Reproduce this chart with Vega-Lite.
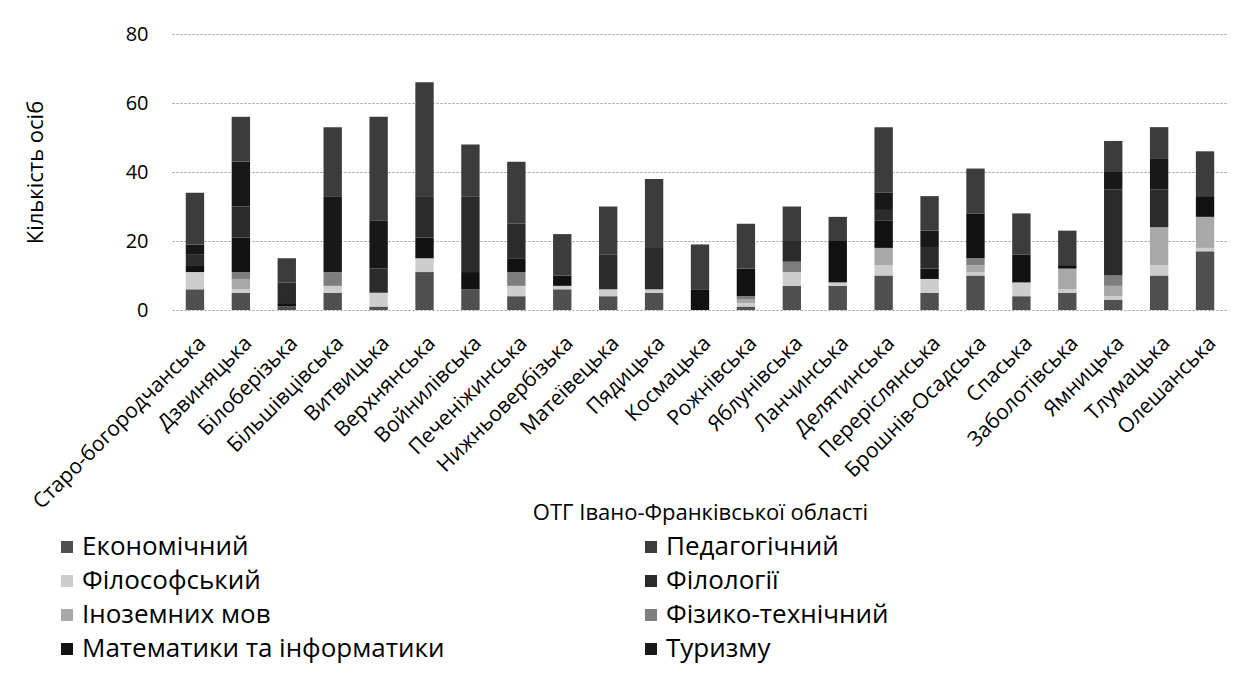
{
  "$schema": "https://vega.github.io/schema/vega-lite/v6.json",
  "width": 1056,
  "height": 276,
  "autosize": {"type": "none"},
  "padding": {"left": 172, "top": 34, "right": 15, "bottom": 363},
  "background": "white",
  "config": {
    "font": "Open Sans",
    "view": {"stroke": null}
  },
  "data": {
    "values": [
      {"o": "Старо-богородчанська", "f": "Економічний", "n": 6},
      {"o": "Старо-богородчанська", "f": "Філософський", "n": 5},
      {"o": "Старо-богородчанська", "f": "Математики та інформатики", "n": 2},
      {"o": "Старо-богородчанська", "f": "Філології", "n": 3},
      {"o": "Старо-богородчанська", "f": "Туризму", "n": 3},
      {"o": "Старо-богородчанська", "f": "Педагогічний", "n": 15},
      {"o": "Дзвиняцька", "f": "Економічний", "n": 5},
      {"o": "Дзвиняцька", "f": "Філософський", "n": 1},
      {"o": "Дзвиняцька", "f": "Іноземних мов", "n": 3},
      {"o": "Дзвиняцька", "f": "Фізико-технічний", "n": 2},
      {"o": "Дзвиняцька", "f": "Математики та інформатики", "n": 10},
      {"o": "Дзвиняцька", "f": "Філології", "n": 9},
      {"o": "Дзвиняцька", "f": "Туризму", "n": 13},
      {"o": "Дзвиняцька", "f": "Педагогічний", "n": 13},
      {"o": "Білоберізька", "f": "Економічний", "n": 1},
      {"o": "Білоберізька", "f": "Математики та інформатики", "n": 1},
      {"o": "Білоберізька", "f": "Філології", "n": 6},
      {"o": "Білоберізька", "f": "Педагогічний", "n": 7},
      {"o": "Більшівцівська", "f": "Економічний", "n": 5},
      {"o": "Більшівцівська", "f": "Філософський", "n": 2},
      {"o": "Більшівцівська", "f": "Фізико-технічний", "n": 4},
      {"o": "Більшівцівська", "f": "Туризму", "n": 22},
      {"o": "Більшівцівська", "f": "Педагогічний", "n": 20},
      {"o": "Витвицька", "f": "Економічний", "n": 1},
      {"o": "Витвицька", "f": "Філософський", "n": 4},
      {"o": "Витвицька", "f": "Філології", "n": 7},
      {"o": "Витвицька", "f": "Туризму", "n": 14},
      {"o": "Витвицька", "f": "Педагогічний", "n": 30},
      {"o": "Верхнянська", "f": "Економічний", "n": 11},
      {"o": "Верхнянська", "f": "Філософський", "n": 4},
      {"o": "Верхнянська", "f": "Математики та інформатики", "n": 6},
      {"o": "Верхнянська", "f": "Філології", "n": 12},
      {"o": "Верхнянська", "f": "Педагогічний", "n": 33},
      {"o": "Войнилівська", "f": "Економічний", "n": 6},
      {"o": "Войнилівська", "f": "Математики та інформатики", "n": 5},
      {"o": "Войнилівська", "f": "Філології", "n": 22},
      {"o": "Войнилівська", "f": "Педагогічний", "n": 15},
      {"o": "Печеніжинська", "f": "Економічний", "n": 4},
      {"o": "Печеніжинська", "f": "Філософський", "n": 3},
      {"o": "Печеніжинська", "f": "Фізико-технічний", "n": 4},
      {"o": "Печеніжинська", "f": "Математики та інформатики", "n": 4},
      {"o": "Печеніжинська", "f": "Філології", "n": 10},
      {"o": "Печеніжинська", "f": "Педагогічний", "n": 18},
      {"o": "Нижньовербізька", "f": "Економічний", "n": 6},
      {"o": "Нижньовербізька", "f": "Філософський", "n": 1},
      {"o": "Нижньовербізька", "f": "Математики та інформатики", "n": 3},
      {"o": "Нижньовербізька", "f": "Педагогічний", "n": 12},
      {"o": "Матеївецька", "f": "Економічний", "n": 4},
      {"o": "Матеївецька", "f": "Філософський", "n": 2},
      {"o": "Матеївецька", "f": "Філології", "n": 10},
      {"o": "Матеївецька", "f": "Педагогічний", "n": 14},
      {"o": "Пядицька", "f": "Економічний", "n": 5},
      {"o": "Пядицька", "f": "Філософський", "n": 1},
      {"o": "Пядицька", "f": "Філології", "n": 12},
      {"o": "Пядицька", "f": "Педагогічний", "n": 20},
      {"o": "Космацька", "f": "Математики та інформатики", "n": 6},
      {"o": "Космацька", "f": "Педагогічний", "n": 13},
      {"o": "Рожнівська", "f": "Економічний", "n": 1},
      {"o": "Рожнівська", "f": "Філософський", "n": 1},
      {"o": "Рожнівська", "f": "Іноземних мов", "n": 1},
      {"o": "Рожнівська", "f": "Фізико-технічний", "n": 1},
      {"o": "Рожнівська", "f": "Математики та інформатики", "n": 8},
      {"o": "Рожнівська", "f": "Педагогічний", "n": 13},
      {"o": "Яблунівська", "f": "Економічний", "n": 7},
      {"o": "Яблунівська", "f": "Філософський", "n": 4},
      {"o": "Яблунівська", "f": "Фізико-технічний", "n": 3},
      {"o": "Яблунівська", "f": "Філології", "n": 6},
      {"o": "Яблунівська", "f": "Педагогічний", "n": 10},
      {"o": "Ланчинська", "f": "Економічний", "n": 7},
      {"o": "Ланчинська", "f": "Філософський", "n": 1},
      {"o": "Ланчинська", "f": "Математики та інформатики", "n": 12},
      {"o": "Ланчинська", "f": "Педагогічний", "n": 7},
      {"o": "Делятинська", "f": "Економічний", "n": 10},
      {"o": "Делятинська", "f": "Філософський", "n": 3},
      {"o": "Делятинська", "f": "Іноземних мов", "n": 5},
      {"o": "Делятинська", "f": "Математики та інформатики", "n": 8},
      {"o": "Делятинська", "f": "Філології", "n": 3},
      {"o": "Делятинська", "f": "Туризму", "n": 5},
      {"o": "Делятинська", "f": "Педагогічний", "n": 19},
      {"o": "Переріслянська", "f": "Економічний", "n": 5},
      {"o": "Переріслянська", "f": "Філософський", "n": 4},
      {"o": "Переріслянська", "f": "Математики та інформатики", "n": 3},
      {"o": "Переріслянська", "f": "Філології", "n": 6},
      {"o": "Переріслянська", "f": "Туризму", "n": 5},
      {"o": "Переріслянська", "f": "Педагогічний", "n": 10},
      {"o": "Брошнів-Осадська", "f": "Економічний", "n": 10},
      {"o": "Брошнів-Осадська", "f": "Філософський", "n": 1},
      {"o": "Брошнів-Осадська", "f": "Іноземних мов", "n": 2},
      {"o": "Брошнів-Осадська", "f": "Фізико-технічний", "n": 2},
      {"o": "Брошнів-Осадська", "f": "Математики та інформатики", "n": 13},
      {"o": "Брошнів-Осадська", "f": "Педагогічний", "n": 13},
      {"o": "Спаська", "f": "Економічний", "n": 4},
      {"o": "Спаська", "f": "Філософський", "n": 4},
      {"o": "Спаська", "f": "Математики та інформатики", "n": 8},
      {"o": "Спаська", "f": "Педагогічний", "n": 12},
      {"o": "Заболотівська", "f": "Економічний", "n": 5},
      {"o": "Заболотівська", "f": "Філософський", "n": 1},
      {"o": "Заболотівська", "f": "Іноземних мов", "n": 6},
      {"o": "Заболотівська", "f": "Математики та інформатики", "n": 1},
      {"o": "Заболотівська", "f": "Педагогічний", "n": 10},
      {"o": "Ямницька", "f": "Економічний", "n": 3},
      {"o": "Ямницька", "f": "Філософський", "n": 1},
      {"o": "Ямницька", "f": "Іноземних мов", "n": 3},
      {"o": "Ямницька", "f": "Фізико-технічний", "n": 3},
      {"o": "Ямницька", "f": "Філології", "n": 25},
      {"o": "Ямницька", "f": "Туризму", "n": 5},
      {"o": "Ямницька", "f": "Педагогічний", "n": 9},
      {"o": "Тлумацька", "f": "Економічний", "n": 10},
      {"o": "Тлумацька", "f": "Філософський", "n": 3},
      {"o": "Тлумацька", "f": "Іноземних мов", "n": 11},
      {"o": "Тлумацька", "f": "Філології", "n": 11},
      {"o": "Тлумацька", "f": "Туризму", "n": 9},
      {"o": "Тлумацька", "f": "Педагогічний", "n": 9},
      {"o": "Олешанська", "f": "Економічний", "n": 17},
      {"o": "Олешанська", "f": "Філософський", "n": 1},
      {"o": "Олешанська", "f": "Іноземних мов", "n": 9},
      {"o": "Олешанська", "f": "Математики та інформатики", "n": 6},
      {"o": "Олешанська", "f": "Педагогічний", "n": 13}
    ]
  },
  "transform": [
    {"calculate": "indexof(['Економічний', 'Філософський', 'Іноземних мов', 'Фізико-технічний', 'Математики та інформатики', 'Філології', 'Туризму', 'Педагогічний'], datum.f)", "as": "stackRank"}
  ],
  "mark": {"type": "bar"},
  "encoding": {
    "x": {
      "field": "o",
      "type": "nominal",
      "sort": null,
      "scale": {"paddingInner": 0.6, "paddingOuter": 0.3},
      "axis": {
        "title": "ОТГ Івано-Франківської області",
        "titleFontSize": 22,
        "titleFontWeight": "normal",
        "titleColor": "#000",
        "titleY": 202,
        "titleBaseline": "middle",
        "labelAngle": -45,
        "labelFontSize": 21,
        "labelColor": "#000",
        "labelPadding": 22,
        "labelLimit": 400,
        "ticks": false,
        "domain": false
      }
    },
    "y": {
      "field": "n",
      "type": "quantitative",
      "stack": "zero",
      "scale": {"domain": [0, 80]},
      "axis": {
        "title": "Кількість осіб",
        "titleFontSize": 22,
        "titleFontWeight": "normal",
        "titleColor": "#000",
        "titlePadding": 78,
        "values": [0, 20, 40, 60, 80],
        "labelFontSize": 20,
        "labelColor": "#000",
        "labelPadding": 24,
        "ticks": false,
        "domain": false,
        "grid": true,
        "gridDash": [2, 2],
        "gridColor": "#999",
        "gridWidth": 1
      }
    },
    "color": {
      "field": "f",
      "type": "nominal",
      "scale": {
        "domain": ["Економічний", "Філософський", "Іноземних мов", "Математики та інформатики", "Педагогічний", "Філології", "Фізико-технічний", "Туризму"],
        "range": ["#505050", "#cdcdcd", "#a8a8a8", "#111111", "#3c3c3c", "#2b2b2b", "#7e7e7e", "#181818"]
      },
      "legend": {
        "title": null,
        "orient": "none",
        "legendX": -118,
        "legendY": 500,
        "columns": 2,
        "columnPadding": 193,
        "rowPadding": 8,
        "symbolType": "square",
        "symbolSize": 144,
        "symbolStrokeWidth": 0,
        "labelFontSize": 26,
        "labelColor": "#000",
        "labelOffset": 2,
        "labelLimit": 600
      }
    },
    "order": {"field": "stackRank", "type": "quantitative", "sort": "ascending"}
  }
}
